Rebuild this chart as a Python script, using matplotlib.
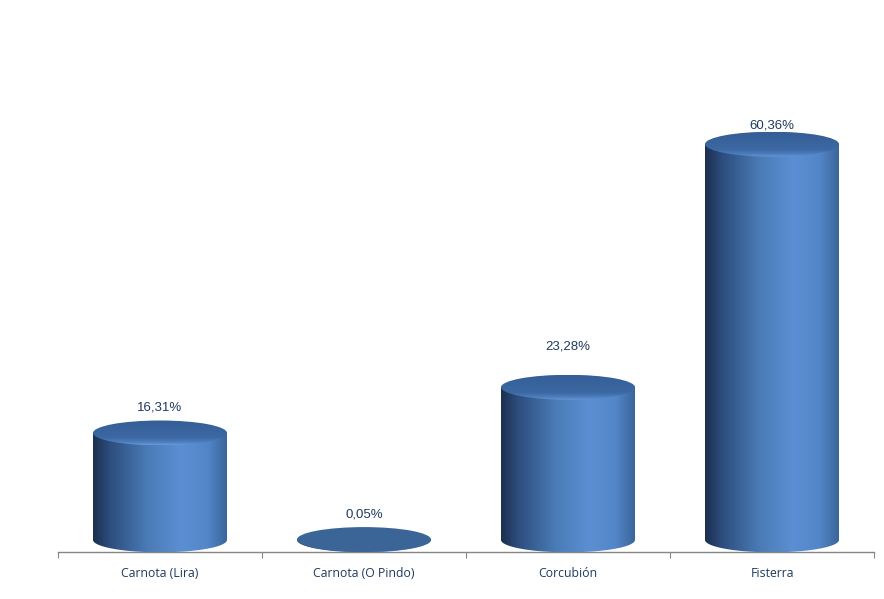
import numpy as np
import matplotlib
matplotlib.use("Agg")
import matplotlib.pyplot as plt
from matplotlib.path import Path
from matplotlib.patches import PathPatch, Ellipse
from matplotlib.colors import LinearSegmentedColormap

# data
categories = ["Carnota (Lira)", "Carnota (O Pindo)", "Corcubión", "Fisterra"]
values = [16.31, 0.05, 23.28, 60.36]
labels = ["16,31%", "0,05%", "23,28%", "60,36%"]
label_offsets_px = [25, 25, 41, 19]   # label distance above cylinder top (pixels)

# styling
side_cmap = LinearSegmentedColormap.from_list("side", [
    (0.0, "#1c2f4f"), (0.12, "#2c4c7c"), (0.4, "#4a7bb6"),
    (0.65, "#5b8fd3"), (0.85, "#5386c9"), (1.0, "#3a6498")])
top_cmap = LinearSegmentedColormap.from_list("top", [
    (0.0, "#355e96"), (0.7, "#3c68a3"), (0.9, "#4f80c0"), (1.0, "#6a9bd8")])
text_color = "#1f3a5f"
bar_w = 0.657          # cylinder width in category units
ell_h = 3.8            # ellipse height in value units

fig = plt.figure(figsize=(8.84, 5.99), dpi=100)
ax = fig.add_axes([58 / 884, 47 / 599, 816 / 884, 532 / 599])
ax.set_xlim(-0.5, 3.5)
ax.set_ylim(-1.85, 79.3)

grad_h = np.linspace(0, 1, 256).reshape(1, -1)
grad_v = np.linspace(0, 1, 256).reshape(-1, 1)

for i, v in enumerate(values):
    x0, x1 = i - bar_w / 2, i + bar_w / 2
    t = np.linspace(np.pi, 2 * np.pi, 60)
    arc = np.column_stack([i + bar_w / 2 * np.cos(t), ell_h / 2 * np.sin(t)])
    verts = np.vstack([[x0, v], arc, [x1, v], [x0, v]])
    codes = [Path.MOVETO] + [Path.LINETO] * (len(verts) - 2) + [Path.CLOSEPOLY]
    body = PathPatch(Path(verts, codes), facecolor="none", edgecolor="none")
    ax.add_patch(body)
    im = ax.imshow(grad_h, cmap=side_cmap, aspect="auto",
                   extent=[x0, x1, -ell_h, v + 0.01], zorder=2, interpolation="bilinear")
    im.set_clip_path(body)

    top = Ellipse((i, v), bar_w, ell_h, facecolor="none", edgecolor="none")
    ax.add_patch(top)
    if v < 1:
        top.set_facecolor("#3b6497")
        top.set_zorder(3)
    else:
        im2 = ax.imshow(grad_v, cmap=top_cmap, aspect="auto", origin="upper",
                        extent=[x0, x1, v - ell_h / 2, v + ell_h / 2], zorder=3,
                        interpolation="bilinear")
        im2.set_clip_path(top)

    ax.annotate(labels[i], (i, v), xytext=(0, label_offsets_px[i] * 0.72),
                textcoords="offset points", ha="center", va="center",
                fontsize=9.5, color=text_color, family="Liberation Sans")

for s in ["top", "left", "right"]:
    ax.spines[s].set_visible(False)
ax.spines["bottom"].set_color("#868686")
ax.spines["bottom"].set_linewidth(1)
ax.set_yticks([])
ax.set_xticks([-0.5, 0.5, 1.5, 2.5, 3.5])
ax.set_xticklabels([])
ax.tick_params(axis="x", which="major", length=4, color="#868686", direction="out")
ax.set_xticks(range(len(categories)), minor=True)
ax.set_xticklabels(categories, minor=True, fontsize=8.8, color=text_color, family="Open Sans")
ax.tick_params(axis="x", which="minor", length=0, pad=11)

fig.savefig("out.png", dpi=100)
